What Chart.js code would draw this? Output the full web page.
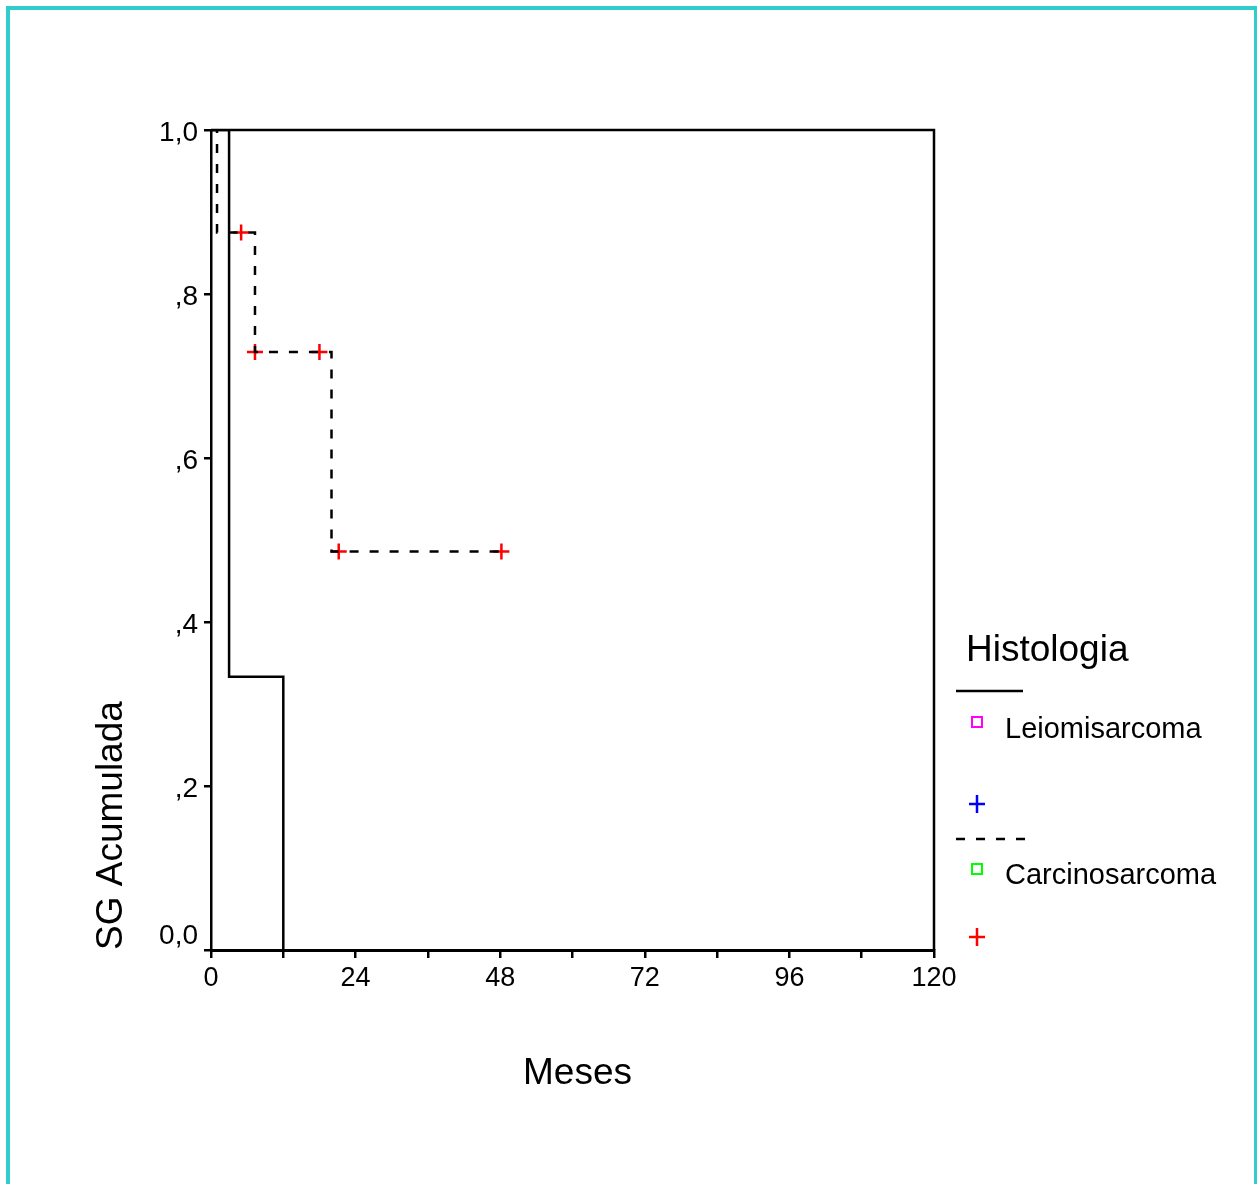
<!DOCTYPE html>
<html>
<head>
<meta charset="utf-8">
<script src="https://cdn.jsdelivr.net/npm/chart.js@4.4.1/dist/chart.umd.min.js"></script>
<style>
  html, body { margin: 0; padding: 0; background: #ffffff; overflow: hidden; }
  #wrap { position: relative; width: 1257px; height: 1184px; }
  #frame { position: absolute; left: 6px; top: 6px; width: 1244px; height: 1300px;
           border: 4px solid #33cccc; border-bottom: none; pointer-events: none; }
  canvas { position: absolute; left: 0; top: 0; }
</style>
</head>
<body>
<div id="wrap">
  <canvas id="c" width="1257" height="1184"></canvas>
  <div id="frame"></div>
</div>
<script>
// ---- Data ----
const xTickValues = [0, 12, 24, 36, 48, 60, 72, 84, 96, 108, 120];
const xLabelStep = 24;
const yTickLabels = ['0,0', ',2', ',4', ',6', ',8', '1,0'];

const seriesNames = ['Leiomisarcoma', 'Carcinosarcoma'];

// Leiomisarcoma (solid step curve)
const leioTimes = [0, 3, 12];
const leioSurv  = [1, 0.3333, 0];

// Carcinosarcoma (dashed step curve)
const carcTimes = [0, 1, 7.3, 20, 48.2];
const carcSurv  = [1, 0.875, 0.7292, 0.4861, 0.4861];

// Carcinosarcoma censored observations
const carcCensorTimes = [5, 7.3, 18, 21.2, 48.2];
const carcCensorSurv  = [0.875, 0.7292, 0.7292, 0.4861, 0.4861];

const FONT = '"Liberation Sans", Arial, Helvetica, sans-serif';

function pts(xs, ys) { return xs.map((x, i) => ({ x: x, y: ys[i] })); }

// Frame (top and right edges of the plot box)
const framePlugin = {
  id: 'frame',
  afterDatasetsDraw(chart) {
    const { ctx, chartArea: a } = chart;
    ctx.save();
    ctx.strokeStyle = '#000';
    ctx.lineWidth = 2.5;
    ctx.beginPath();
    ctx.moveTo(a.left, a.top);
    ctx.lineTo(a.right, a.top);
    ctx.lineTo(a.right, a.bottom);
    ctx.stroke();
    ctx.restore();
  }
};

// Legend and x-axis title drawn as in the SPSS output
const legendPlugin = {
  id: 'kmLegend',
  afterDraw(chart) {
    const { ctx, chartArea: a } = chart;
    const R = a.right;
    ctx.save();
    ctx.fillStyle = '#000';
    ctx.textBaseline = 'alphabetic';

    // x-axis title
    ctx.textAlign = 'center';
    ctx.font = '37px ' + FONT;
    ctx.fillText('Meses', (a.left + a.right) / 2 + 5, 1084);

    ctx.textAlign = 'left';
    ctx.fillText('Histologia', R + 32, 661);

    // solid line
    ctx.strokeStyle = '#000';
    ctx.lineWidth = 2.5;
    ctx.setLineDash([]);
    ctx.beginPath(); ctx.moveTo(R + 22, 691); ctx.lineTo(R + 89, 691); ctx.stroke();
    // magenta square
    ctx.strokeStyle = '#ff00ff';
    ctx.lineWidth = 2;
    ctx.strokeRect(R + 38, 717, 10, 10);
    ctx.font = '29px ' + FONT;
    ctx.fillText(seriesNames[0], R + 71, 738);
    // blue cross
    ctx.strokeStyle = '#0000ff';
    ctx.lineWidth = 2.5;
    ctx.beginPath();
    ctx.moveTo(R + 35, 804); ctx.lineTo(R + 51, 804);
    ctx.moveTo(R + 43, 795); ctx.lineTo(R + 43, 813);
    ctx.stroke();

    // dashed line
    ctx.strokeStyle = '#000';
    ctx.lineWidth = 2.5;
    ctx.setLineDash([9, 11]);
    ctx.beginPath(); ctx.moveTo(R + 22, 839); ctx.lineTo(R + 92, 839); ctx.stroke();
    ctx.setLineDash([]);
    // green square
    ctx.strokeStyle = '#00ff00';
    ctx.lineWidth = 2;
    ctx.strokeRect(R + 38, 864, 10, 10);
    ctx.fillText(seriesNames[1], R + 71, 884);
    // red cross
    ctx.strokeStyle = '#ff0000';
    ctx.lineWidth = 2.5;
    ctx.beginPath();
    ctx.moveTo(R + 35, 937); ctx.lineTo(R + 51, 937);
    ctx.moveTo(R + 43, 928); ctx.lineTo(R + 43, 946);
    ctx.stroke();
    ctx.restore();
  }
};

new Chart(document.getElementById('c'), {
  type: 'line',
  data: {
    datasets: [
      {
        label: seriesNames[0],
        data: pts(leioTimes, leioSurv),
        stepped: 'before',
        borderColor: '#000',
        borderWidth: 2.5,
        pointRadius: 0,
        fill: false
      },
      {
        label: seriesNames[1],
        data: pts(carcTimes, carcSurv),
        stepped: 'before',
        borderColor: '#000',
        borderWidth: 2.5,
        borderDash: [9, 11],
        pointRadius: 0,
        fill: false
      },
      {
        label: seriesNames[1] + ' (censurado)',
        data: pts(carcCensorTimes, carcCensorSurv),
        showLine: false,
        pointStyle: 'cross',
        pointRadius: 8,
        pointBorderColor: '#ff0000',
        pointBorderWidth: 2.5,
        pointBackgroundColor: '#ff0000'
      }
    ]
  },
  options: {
    responsive: false,
    animation: false,
    devicePixelRatio: 1,
    events: [],
    layout: { padding: { left: 0, top: 130, right: 323, bottom: 0 } },
    plugins: {
      legend: { display: false },
      tooltip: { enabled: false },
      title: { display: false }
    },
    scales: {
      x: {
        type: 'linear',
        min: 0,
        max: 120,
        afterBuildTicks(scale) { scale.ticks = xTickValues.map(v => ({ value: v })); },
        afterFit(scale) { scale.height = 234; },
        ticks: {
          autoSkip: false,
          maxRotation: 0,
          padding: 4,
          color: '#000',
          font: { family: FONT, size: 27 },
          callback: (v) => (v % xLabelStep === 0 ? String(v) : '')
        },
        grid: {
          display: true,
          drawOnChartArea: false,
          drawTicks: true,
          tickLength: 8,
          color: '#000',
          lineWidth: 2.5
        },
        border: { display: true, color: '#000', width: 3 },
        title: { display: false }
      },
      y: {
        type: 'linear',
        min: 0,
        max: 1,
        afterBuildTicks(scale) { scale.ticks = yTickLabels.map((t, i) => ({ value: i * 0.2 })); },
        afterFit(scale) { scale.width = 211; },
        ticks: {
          padding: 6,
          labelOffset: 3,
          color: '#000',
          font: { family: FONT, size: 28 },
          // the bottom label sits above its tick in the original
          callback: (v, i) => (i === 0 ? [yTickLabels[i], ''] : yTickLabels[i])
        },
        grid: {
          display: true,
          drawOnChartArea: false,
          drawTicks: true,
          tickLength: 7,
          color: '#000',
          lineWidth: 2.5
        },
        border: { display: true, color: '#000', width: 2.5 },
        title: {
          display: true,
          text: 'SG Acumulada',
          align: 'start',
          color: '#000',
          font: { family: FONT, size: 37 },
          padding: { top: 90, bottom: 0 }
        }
      }
    }
  },
  plugins: [framePlugin, legendPlugin]
});
</script>
</body>
</html>
